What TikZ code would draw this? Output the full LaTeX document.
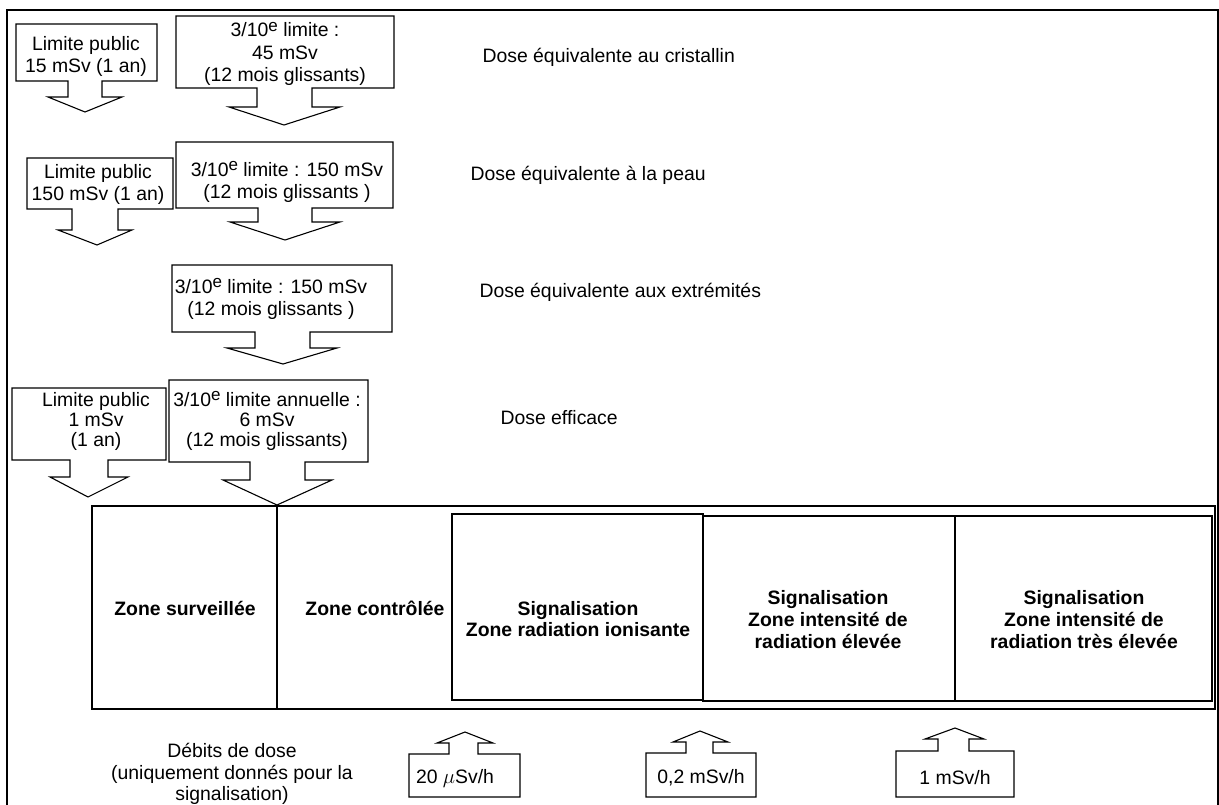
\documentclass[tikz,border=0pt]{standalone}
\usepackage{fontspec}
\setmainfont{Liberation Sans}
\newcommand\supe{\raisebox{0.55ex}{\fontsize{17}{17}\selectfont e}}
\begin{document}
\begin{tikzpicture}[x=1pt,y=-1pt,line width=1.1pt,line join=miter,
  txt/.style={font=\fontsize{19.4}{22}\selectfont,inner sep=0pt,align=center},
  tight/.style={font=\fontsize{19.4}{20}\selectfont,inner sep=0pt,align=center},
  lbl/.style={font=\fontsize{19.4}{22}\selectfont,inner sep=0pt,anchor=west},
  zone/.style={font=\bfseries\fontsize{19.4}{21.5}\selectfont,inner sep=0pt,align=center},
  callout/.style={draw,fill=white}]
\useasboundingbox (0,0) rectangle (1219,805);

% outer frame
\draw (7,805) -- (7,10) -- (1218,10) -- (1218,805);

% ---- down-pointing callouts (limits) ----
% cristallin
\draw[callout] (16,24) -- (157,24) -- (157,81) -- (102,81) -- (102,97) -- (122,97)
  -- (85,112) -- (48,97) -- (68,97) -- (68,81) -- (16,81) -- cycle;
\node[txt] (pubA) at (86,56) {Limite public\\15 mSv (1 an)};
\draw[callout] (176,16) -- (394,16) -- (394,88) -- (312,88) -- (312,107) -- (340,107)
  -- (284,125) -- (229,107) -- (257,107) -- (257,88) -- (176,88) -- cycle;
\node[txt,font=\fontsize{19.4}{22.5}\selectfont] (trvB) at (285,54)
  {3/10\supe{} limite :\\45 mSv\\(12 mois glissants)};

% peau
\draw[callout] (27,158) -- (173,158) -- (173,209) -- (118,209) -- (118,230) -- (132,230)
  -- (97,245) -- (58,230) -- (72,230) -- (72,209) -- (27,209) -- cycle;
\node[txt] (pubC) at (98,184) {Limite public\\150 mSv (1 an)};
\draw[callout] (176,142) -- (393,142) -- (393,208) -- (312,208) -- (312,222) -- (340,222)
  -- (285,240) -- (230,222) -- (258,222) -- (258,208) -- (176,208) -- cycle;
\node[txt] (trvD) at (287,182) {3/10\supe{} limite : 150 mSv\\(12 mois glissants )};

% extremites
\draw[callout] (172,265) -- (392,265) -- (392,332) -- (310,332) -- (310,348) -- (337,348)
  -- (283,364) -- (227,348) -- (255,348) -- (255,332) -- (172,332) -- cycle;
\node[txt] (trvE) at (271,299) {3/10\supe{} limite : 150 mSv\\(12 mois glissants )};

% dose efficace
\draw[callout] (12,388) -- (166,388) -- (166,460) -- (108,460) -- (108,477) -- (128,477)
  -- (88,497) -- (50,477) -- (70,477) -- (70,460) -- (12,460) -- cycle;
\node[tight] (pubF) at (96,421) {Limite public\\1 mSv\\(1 an)};
\draw[callout] (169,380) -- (368,380) -- (368,462) -- (305,462) -- (305,480) -- (332,480)
  -- (277,505) -- (223,480) -- (250,480) -- (250,462) -- (169,462) -- cycle;
\node[tight] (trvG) at (267,421) {3/10\supe{} limite annuelle :\\6 mSv\\(12 mois glissants)};

% ---- dose labels ----
\node[lbl] (lcr) at (482,57) {Dose équivalente au cristallin};
\node[lbl] (lpe) at (470,175) {Dose équivalente à la peau};
\node[lbl] (lex) at (479,292) {Dose équivalente aux extrémités};
\node[lbl] (lef) at (500,418) {Dose efficace};

% ---- zones ----
\draw (92,506) rectangle (1215,709);
\draw (277,506) -- (277,709);
\draw (452,514) rectangle (703,700);
\draw (703,516) rectangle (955,701);
\draw (955,516) rectangle (1212,701);
\node[zone] (zs) at (185,608) {Zone surveillée};
\node[zone] (zc) at (375,608) {Zone contrôlée};
\node[zone] (z1) at (578,619) {Signalisation\\Zone radiation ionisante};
\node[zone,font=\bfseries\fontsize{19.4}{22}\selectfont] (z2) at (828,620)
  {Signalisation\\Zone intensité de\\radiation élevée};
\node[zone,font=\bfseries\fontsize{19.4}{22}\selectfont] (z3) at (1084,620)
  {Signalisation\\Zone intensité de\\radiation très élevée};

% ---- dose rates ----
\node[txt,font=\fontsize{19.4}{21.5}\selectfont] (deb) at (232,774)
  {Débits de dose\\(uniquement donnés pour la\\signalisation)};
\draw[callout] (409,797) -- (409,754) -- (449,754) -- (449,743) -- (437,743) -- (465,732)
  -- (493,743) -- (478,743) -- (478,754) -- (520,754) -- (520,797) -- cycle;
\node[txt] (r1) at (455,778) {20 $\mu$Sv/h};
\draw[callout] (646,797) -- (646,753) -- (686,753) -- (686,742) -- (673,742) -- (700,731)
  -- (728,742) -- (713,742) -- (713,753) -- (756,753) -- (756,797) -- cycle;
\node[txt] (r2) at (701,778) {0,2 mSv/h};
\draw[callout] (896,797) -- (896,751) -- (938,751) -- (938,739) -- (925,739) -- (955,728)
  -- (984,739) -- (969,739) -- (969,751) -- (1014,751) -- (1014,797) -- cycle;
\node[txt] (r3) at (955,778) {1 mSv/h};
\end{tikzpicture}
\end{document}
